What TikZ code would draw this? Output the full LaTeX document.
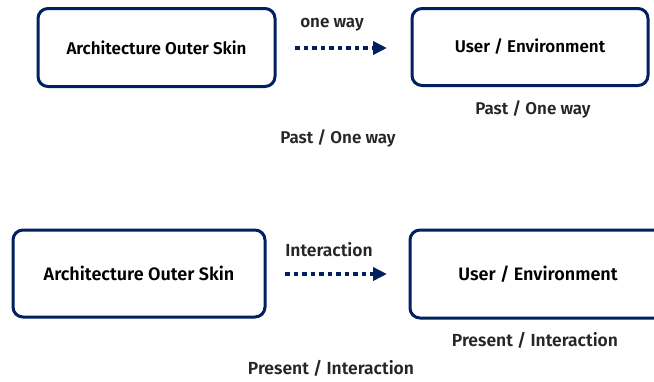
\documentclass[tikz,border=0pt]{standalone}
\usepackage{fontspec}
\setmainfont{Fira Sans}[BoldFont={Fira Sans SemiBold}]
\definecolor{skinnavy}{RGB}{0,32,96}
\usepackage{tikz}
\usetikzlibrary{arrows.meta,positioning}

\begin{document}
\begin{tikzpicture}[x=1pt, y=-1pt,
    skin/.style={draw=skinnavy, line width=3pt, rounded corners=10pt, fill=white, font=\bfseries\fontsize{17}{20}\selectfont},
    flow/.style={draw=skinnavy, line width=3.5pt, dash pattern=on 4.5pt off 4pt, -{Triangle[length=14pt, width=13pt]}},
    note/.style={font=\bfseries\fontsize{17}{20}\selectfont, text=black!85}]
    \useasboundingbox (0,0) rectangle (654,381);
    % past: one way
    \node[skin, minimum width=237pt, minimum height=78pt] (skinpast) at (156.5,47.5) {Architecture Outer Skin};
    \node[skin, minimum width=236pt, minimum height=77pt] (userpast) at (530,47) {User / Environment};
    \draw[flow, shorten >=1pt] (295,48) coordinate (dpast) -- (388,48) coordinate (tpast);
    \node[note] (wpast) at (332,25) {one way};
    \node[note] (lpast) at (533,109) {Past / One way};
    \node[note] (cpast) at (338,138) {Past / One way};
    % present: interaction
    \node[skin, minimum width=252pt, minimum height=87pt, font=\bfseries\fontsize{18}{21}\selectfont] (skinnow) at (139,273.5) {Architecture Outer Skin};
    \node[skin, minimum width=256pt, minimum height=88pt, font=\bfseries\fontsize{18}{21}\selectfont] (usernow) at (538,274) {User / Environment};
    \draw[flow] (285,274) coordinate (dnow) -- (387,274) coordinate (tnow);
    \node[note, font=\bfseries\fontsize{17.5}{20}\selectfont] (wnow) at (329,250) {Interaction};
    \node[note, font=\bfseries\fontsize{17.5}{20}\selectfont] (lnow) at (535,340) {Present / Interaction};
    \node[note, font=\bfseries\fontsize{17.5}{20}\selectfont] (cnow) at (331,368) {Present / Interaction};
\end{tikzpicture}
\end{document}
